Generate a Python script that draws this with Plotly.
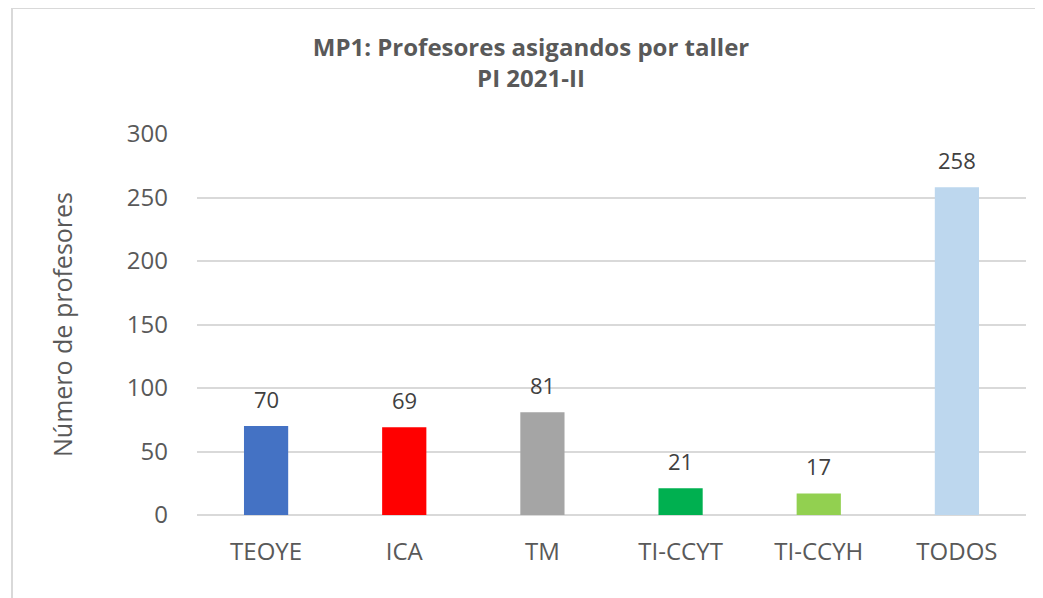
import plotly.graph_objects as go

categories = ["TEOYE", "ICA", "TM", "TI-CCYT", "TI-CCYH", "TODOS"]
values = [70, 69, 81, 21, 17, 258]
colors = ["#4472C4", "#FF0000", "#A5A5A5", "#00B050", "#92D050", "#BDD7EE"]
y_ticks = [0, 50, 100, 150, 200, 250, 300]

W, H = 1043, 598
L, R, T, B = 189, 25, 126, 91
pw, ph = W - L - R, H - T - B

def px_x(px):
    return (px - L) / pw

def px_y(py):
    return (H - B - py) / ph

fig = go.Figure(go.Bar(
    x=categories, y=values,
    marker=dict(color=colors, line=dict(width=0)),
    cliponaxis=False,
))

annotations = [
    dict(x=c, y=v, xref="x", yref="y", text=str(v), showarrow=False,
         yanchor="bottom", yshift=10,
         font=dict(family="Open Sans", size=22, color="#404040"))
    for c, v in zip(categories, values)
]

fig.update_layout(
    width=W, height=H,
    margin=dict(l=L, r=R, t=T, b=B, autoexpand=False),
    paper_bgcolor="white", plot_bgcolor="white",
    bargap=0.68,
    showlegend=False,
    font=dict(family="Open Sans", color="#595959"),
    title=dict(
        text="MP1: Profesores asigandos por taller<br>PI 2021-II",
        xref="container", yref="container",
        x=523 / W, xanchor="center", y=1 - 48 / H, yanchor="middle",
        font=dict(family="Open Sans", size=24, color="#595959", weight="bold"),
    ),
    xaxis=dict(
        showgrid=False, showline=False, ticks="", automargin=False,
        ticklabelstandoff=20,
        tickfont=dict(family="Open Sans", size=24, color="#595959"),
    ),
    yaxis=dict(
        range=[0, 300], tickvals=y_ticks, showgrid=True, gridcolor="#D9D9D9", gridwidth=1.5,
        zeroline=True, zerolinecolor="#D9D9D9", zerolinewidth=1.5,
        showline=False, ticks="", ticklabelstandoff=28, automargin=False,
        tickfont=dict(family="Open Sans", size=24, color="#595959"),
        title=dict(text="Número de profesores", standoff=47,
                   font=dict(family="Open Sans", size=25, color="#595959")),
    ),
    annotations=annotations,
    shapes=[dict(
        type="rect", xref="paper", yref="paper",
        x0=px_x(4), x1=px_x(1060), y0=px_y(620), y1=px_y(0),
        line=dict(color="#D9D9D9", width=2), fillcolor="rgba(0,0,0,0)", layer="below",
    )],
)

fig.write_html("out.html")
